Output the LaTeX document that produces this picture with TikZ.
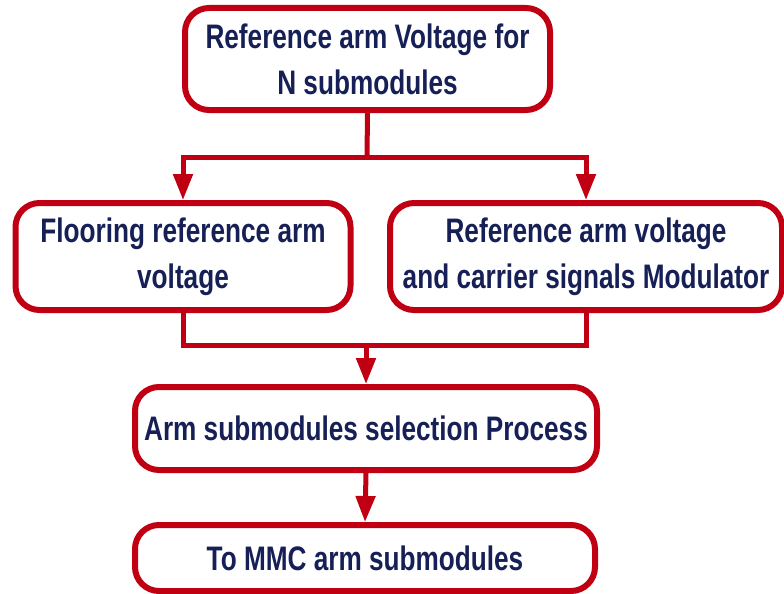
\documentclass[tikz,border=0pt]{standalone}
\usepackage{fontspec}
\setmainfont{Liberation Sans}[FakeStretch=0.77]
\usetikzlibrary{arrows.meta}
\definecolor{boxred}{RGB}{192,0,18}
\definecolor{txtblue}{RGB}{22,32,86}
\tikzset{
  box/.style={draw=boxred, line width=6pt, rounded corners=24pt, fill=white,
    align=center, text=txtblue, font=\fontsize{34}{46}\selectfont\bfseries, inner sep=0pt},
  conn/.style={draw=boxred, line width=5pt},
  arr/.style={conn, -{Triangle[width=19pt,length=26pt]}, shorten >=0pt}
}
\begin{document}
\begin{tikzpicture}[x=1pt,y=1pt]
\useasboundingbox (0,0) rectangle (784,-594);
\node[box, minimum width=365pt, minimum height=102pt] (top) at (367.5,-59) {Reference arm Voltage for\\N submodules};
\node[box, minimum width=335pt, minimum height=107pt] (left) at (183,-256.5) {Flooring reference arm\\voltage};
\node[box, minimum width=392pt, minimum height=107pt] (right) at (586,-256.5) {Reference arm voltage\\and carrier signals Modulator};
\node[box, minimum width=462pt, minimum height=83pt] (mid) at (366,-428.5) {Arm submodules selection Process};
\node[box, minimum width=460pt, minimum height=66pt] (bot) at (365,-558) {To MMC arm submodules};
\coordinate (j1) at (367,-157);
\coordinate (j2) at (366,-345);
\draw[conn] (top.south) -- (j1);
\draw[arr] (j1) -| (left.north);
\draw[arr] (j1) -| (right.north);
\draw[conn] (left.south) |- (j2);
\draw[conn] (right.south) |- (j2);
\draw[arr] (j2) -- (mid.north);
\draw[arr] (mid.south) -- (bot.north);
\end{tikzpicture}
\end{document}
